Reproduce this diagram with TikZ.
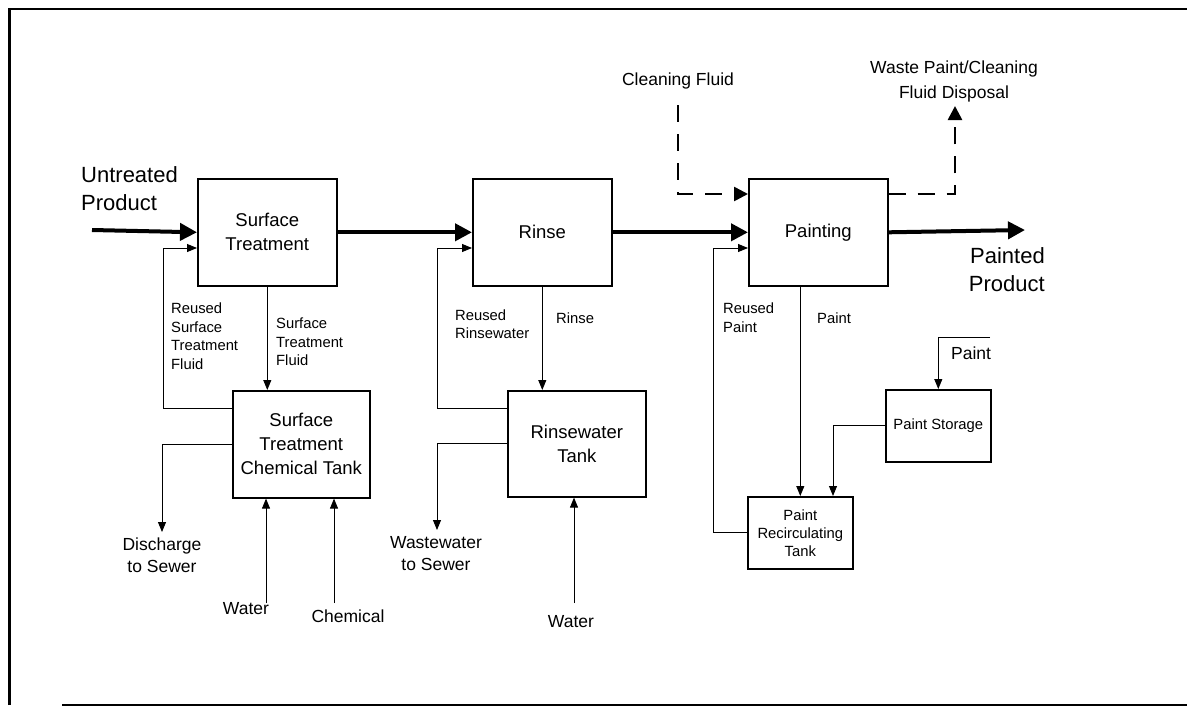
\documentclass[tikz,border=0pt]{standalone}
\usepackage{fontspec}
\setmainfont{Liberation Sans}
\usetikzlibrary{arrows.meta}
\begin{document}
\begin{tikzpicture}[x=1pt,y=-1pt,
  box/.style={draw,line width=1.6pt,anchor=north west,inner sep=0pt,align=center,font=\fontsize{18.5}{24}\selectfont},
  sbox/.style={box,font=\fontsize{14.8}{18}\selectfont},
  biglbl/.style={font=\fontsize{22}{28}\selectfont,inner sep=0pt},
  outlbl/.style={font=\fontsize{17.5}{22}\selectfont,inner sep=0pt,align=center},
  inlbl/.style={font=\fontsize{14.8}{18.5}\selectfont,inner sep=0pt,align=left,anchor=west},
  thickarr/.style={line width=4pt,-{Triangle[length=17pt,width=17pt]}},
  thinarr/.style={line width=0.9pt,-{Triangle[length=10pt,width=8pt]}},
  dasharr/.style={line width=2.6pt,dash pattern=on 17pt off 12pt,-{Triangle[length=14pt,width=14pt]}},
  frame/.style={line width=2.2pt}
]
\useasboundingbox (0,0) rectangle (1187,707);
% frame
\draw[frame] (9.5,705) -- (9.5,9) -- (1187,9);
\draw[line width=1.5pt] (62,705) -- (1187,705);

% boxes
\node[box,minimum width=139pt,minimum height=107pt] (st) at (197,178) {Surface\\Treatment};
\node[box,minimum width=139pt,minimum height=107pt] (rinse) at (472,178) {Rinse};
\node[box,minimum width=139pt,minimum height=107pt] (paint) at (748,178) {Painting};
\node[box,minimum width=137pt,minimum height=107pt] (stt) at (232,390) {Surface\\Treatment\\Chemical Tank};
\node[box,minimum width=138pt,minimum height=106pt] (rwt) at (507,390) {Rinsewater\\Tank};
\node[sbox,minimum width=105pt,minimum height=72pt] (prt) at (747,496) {Paint\\Recirculating\\Tank};
\node[sbox,minimum width=105pt,minimum height=72pt] (ps) at (885,389) {Paint Storage};

% labels
\node[biglbl,align=left,anchor=west] (untr) at (81,189) {Untreated\\Product};
\node[biglbl,align=right,anchor=east] (ptd) at (1045,270) {Painted\\Product};
\node[outlbl] (cfl) at (678,81) {Cleaning Fluid};
\node[outlbl,font=\fontsize{17.5}{25}\selectfont] (wdl) at (954,81) {Waste Paint/Cleaning\\Fluid Disposal};
\node[outlbl] (disl) at (162,555) {Discharge\\to Sewer};
\node[outlbl] (wwl) at (436,554) {Wastewater\\to Sewer};
\node[outlbl] (w1l) at (246,609) {Water};
\node[outlbl] (chl) at (348,616) {Chemical};
\node[outlbl] (w2l) at (571,622) {Water};
\node[outlbl,anchor=west] (pinl) at (951,353) {Paint};
\node[inlbl] (rstf) at (171,336) {Reused\\Surface\\Treatment\\Fluid};
\node[inlbl] (stfl) at (276,342) {Surface\\Treatment\\Fluid};
\node[inlbl] (rrwl) at (455,324) {Reused\\Rinsewater};
\node[inlbl] (rinl) at (556,318) {Rinse};
\node[inlbl] (rpl) at (723,317.5) {Reused\\Paint};
\node[inlbl] (pl) at (817,318) {Paint};

% free ends
\coordinate (up) at (92,230);
\coordinate (pp) at (1025,230);
\coordinate (dis) at (162,532);
\coordinate (ww) at (437,530);
\coordinate (w1) at (266,603);
\coordinate (ch) at (334,603);
\coordinate (w2) at (574,603);
\coordinate (cf) at (678,105);
\coordinate (wd) at (955,106);
\coordinate (pin) at (990,337);

% main product flow
\draw[thickarr] (up) -- (st.west);
\draw[thickarr] (st.east) -- (rinse.west);
\draw[thickarr] (rinse.east) -- (paint.west);
\draw[thickarr] (paint.east) -- (pp);

% surface treatment loop
\draw[thinarr] (stt.west |- 0,408) -| (163,248) -- (st.west |- 0,248);
\draw[thinarr] (st.south) -- (st.south |- stt.north);
\draw[thinarr] (stt.west |- 0,444) -| (dis);
\draw[thinarr] (w1) -- (w1 |- stt.south);
\draw[thinarr] (ch) -- (ch |- stt.south);

% rinse loop
\draw[thinarr] (rwt.west |- 0,408) -| (437,248) -- (rinse.west |- 0,248);
\draw[thinarr] (rinse.south) -- (rinse.south |- rwt.north);
\draw[thinarr] (rwt.west |- 0,443) -| (ww);
\draw[thinarr] (w2) -- (w2 |- rwt.south);

% painting
\draw[dasharr] (cf) |- (paint.west |- 0,194);
\draw[dasharr] (paint.east |- 0,194) -| (wd);
\draw[thinarr] (prt.north |- paint.south) -- (prt.north);
\draw[thinarr] (prt.west) -| (713,248) -- (paint.west |- 0,248);
\draw[thinarr] (ps.west) -| (prt.north -| 833,0);
\draw[thinarr] (pin) -| (ps.north);
\end{tikzpicture}
\end{document}
